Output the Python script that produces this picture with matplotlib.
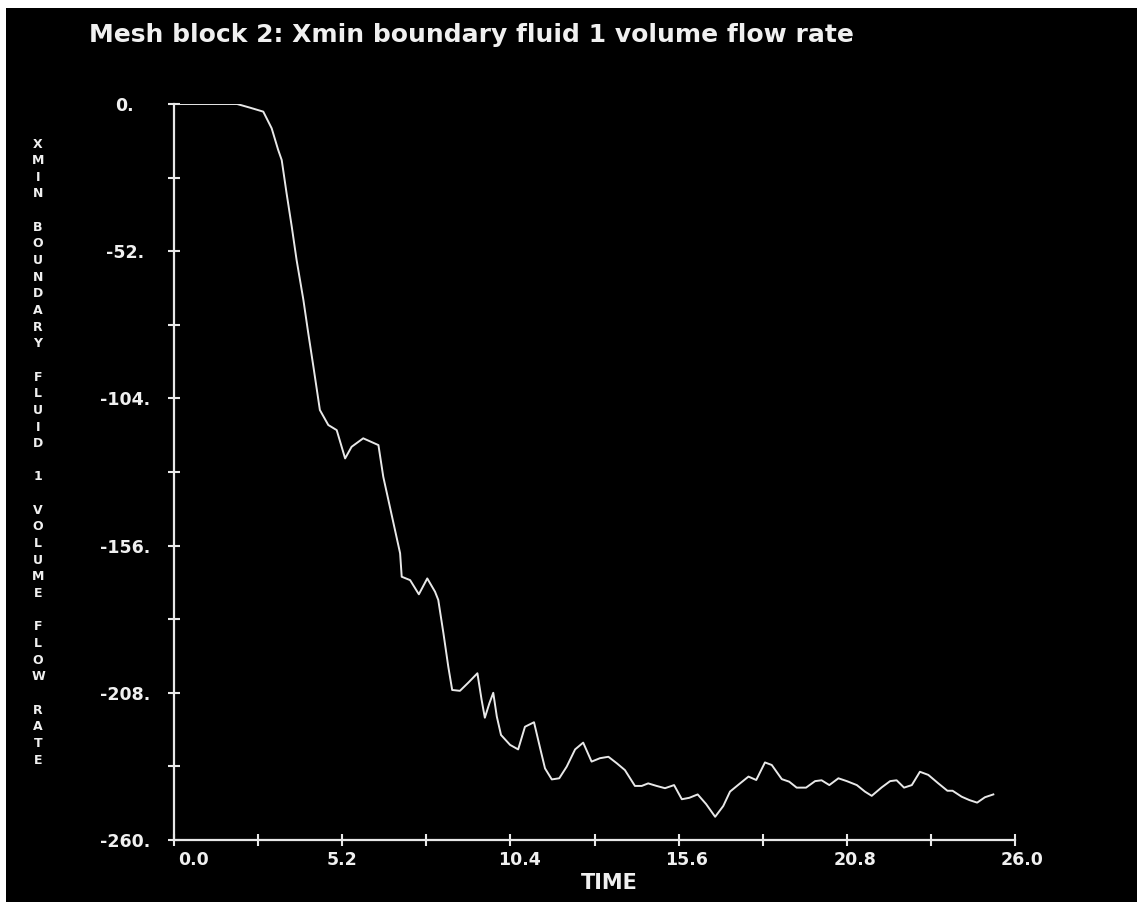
import matplotlib
matplotlib.use("Agg")
import matplotlib.pyplot as plt
import matplotlib.transforms as mtransforms
import numpy as np
from matplotlib.patches import Rectangle

# ---- data ----
time = [0.0, 1.95, 2.35, 2.76, 3.02, 3.22, 3.33, 3.48, 3.64, 3.79, 4.00, 4.15, 4.31,
        4.51, 4.77, 5.03, 5.29, 5.49, 5.85, 6.32, 6.47, 6.99, 7.04, 7.30, 7.57,
        7.83, 8.07, 8.17, 8.33, 8.48, 8.60, 8.84, 9.10, 9.38, 9.51, 9.61, 9.75,
        9.87, 9.98, 10.11, 10.39, 10.64, 10.85, 11.13, 11.32, 11.47, 11.68, 11.91,
        12.14, 12.40, 12.65, 12.91, 13.17, 13.43, 13.69, 13.94, 14.25, 14.46,
        14.66, 14.92, 15.18, 15.46, 15.70, 15.93, 16.19, 16.45, 16.73, 16.98,
        17.19, 17.50, 17.76, 18.00, 18.27, 18.48, 18.79, 19.02, 19.25, 19.54,
        19.82, 20.02, 20.26, 20.54, 20.80, 21.11, 21.36, 21.57, 21.88, 22.14,
        22.34, 22.57, 22.81, 23.06, 23.32, 23.63, 23.91, 24.07, 24.35, 24.59,
        24.83, 25.07, 25.33]
flow = [0.0, 0.0, -1.3, -2.7, -8.6, -16.2, -19.8, -31.5, -43.3, -55.1, -69.2, -80.9,
        -92.8, -108.1, -113.4, -115.2, -125.2, -121.1, -118.1, -120.5, -131.7,
        -158.7, -167.0, -168.2, -173.2, -167.6, -172.3, -175.2, -187.0, -198.8,
        -207.0, -207.3, -204.4, -201.1, -210.5, -216.8, -211.7, -208.0, -216.4,
        -222.9, -226.4, -228.0, -220.0, -218.4, -227.6, -234.7, -238.6, -238.2,
        -234.1, -228.0, -225.6, -232.3, -231.1, -230.6, -232.9, -235.3, -240.9,
        -240.9, -240.0, -240.9, -241.7, -240.6, -245.6, -245.1, -243.9, -247.3,
        -251.8, -248.0, -242.9, -240.0, -237.6, -238.8, -232.6, -233.5, -238.5,
        -239.4, -241.5, -241.5, -239.2, -238.9, -240.6, -238.2, -239.2, -240.6,
        -242.9, -244.4, -241.4, -239.2, -238.9, -241.5, -240.6, -235.9, -237.0,
        -240.0, -242.6, -242.6, -244.7, -245.9, -246.8, -244.9, -243.9]

x_ticks = [0.0, 2.6, 5.2, 7.8, 10.4, 13.0, 15.6, 18.2, 20.8, 23.4, 26.0]
x_tick_labels = ["0.0", "", "5.2", "", "10.4", "", "15.6", "", "20.8", "", "26.0"]
y_ticks = [0, -26, -52, -78, -104, -130, -156, -182, -208, -234, -260]
y_tick_labels = ["0.", "", "-52.", "", "-104.", "", "-156.", "", "-208.", "", "-260."]

title = "Mesh block 2: Xmin boundary fluid 1 volume flow rate"
x_label = "TIME"
y_label = "XMIN BOUNDARY FLUID 1 VOLUME FLOW RATE"

# ---- figure ----
W, H = 1137, 902
plt.rcParams['font.family'] = ['DejaVu Sans']
fig = plt.figure(figsize=(W / 100, H / 100), dpi=100, facecolor='white')
fig.patches.append(Rectangle((6 / W, 0), 1 - 6 / W, 1 - 8 / H, transform=fig.transFigure,
                             facecolor='black', edgecolor='none', zorder=-10))

ax = fig.add_axes([174 / W, 1 - 840 / H, (1015 - 174) / W, (840 - 104) / H])
ax.set_facecolor('none')
fg = '#e8e8e8'
txt = '#f0f0f0'
ax.plot(time, flow, color=fg, lw=1.4)
ax.set_xlim(0, 26)
ax.set_ylim(-260, 0)
for s in ['top', 'right']:
    ax.spines[s].set_visible(False)
for s in ['left', 'bottom']:
    ax.spines[s].set_color(fg)
    ax.spines[s].set_linewidth(1.6)

ax.set_xticks(x_ticks)
ax.set_xticklabels(x_tick_labels)
ax.set_yticks(y_ticks)
ax.set_yticklabels(y_tick_labels)
ax.tick_params(axis='x', direction='inout', length=8, width=1.5, color=fg,
               labelcolor=txt, labelsize=12.5, pad=4)
ax.tick_params(axis='y', direction='inout', length=9, width=1.5, color=fg,
               labelcolor=txt, labelsize=12.5, pad=31)
for lbl in ax.get_xticklabels() + ax.get_yticklabels():
    lbl.set_fontweight('bold')
for lbl in ax.get_yticklabels():
    lbl.set_horizontalalignment('center')

# small horizontal nudges of the x tick labels, as in the reference
xlabel_dx = [4, 0, 0, 0, 9, 0, 8, 0, 8, 0, 7]
for lbl, dx in zip(ax.get_xticklabels(), xlabel_dx):
    lbl.set_transform(lbl.get_transform() +
                      mtransforms.ScaledTranslation(dx / 100, 0, fig.dpi_scale_trans))
ax.get_xticklabels()[0].set_horizontalalignment('left')

fig.text(89 / W, 1 - 42 / H, title, color=txt, fontsize=18, fontweight='bold',
         ha='left', va='baseline')
fig.text(609 / W, 1 - 883 / H, x_label, color=txt, fontsize=15, fontweight='bold',
         ha='center', va='center')

y0, y1 = 144, 760
step = (y1 - y0) / (len(y_label) - 1)
for i, ch in enumerate(y_label):
    if ch != ' ':
        fig.text(38 / W, 1 - (y0 + i * step) / H, ch, color=txt, fontsize=9,
                 fontweight='bold', ha='center', va='center')

fig.savefig('out.png', dpi=100, facecolor='white')
